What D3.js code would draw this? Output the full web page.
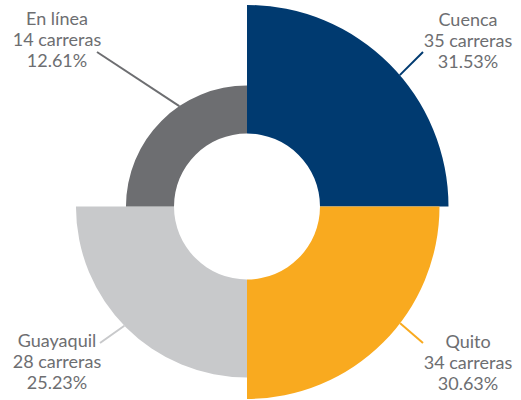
<!DOCTYPE html>
<html>
<head>
<meta charset="utf-8">
<script src="https://cdn.jsdelivr.net/npm/d3@7"></script>
<style>
  html, body { margin: 0; padding: 0; background: #fff; }
  svg { display: block; }
  text { font-family: Lato, "Noto Sans", sans-serif; }
</style>
</head>
<body>
<svg id="chart" width="521" height="400"></svg>
<script>
// ---- data ----
const categories = ["Cuenca", "Quito", "Guayaquil", "En línea"];
const carreras = [35, 34, 28, 14];
const percents = ["31.53%", "30.63%", "25.23%", "12.61%"];
const colors = ["#003a70", "#f9aa1f", "#c8c9cb", "#6d6e71"];

// ---- layout ----
const cx = 247, cy = 206.5;
const innerR = 73;

const svg = d3.select("#chart");
const g = svg.append("g").attr("transform", `translate(${cx},${cy})`);

const rScale = d3.scaleLinear().domain([0, 34, 35]).range([71, 192.5, 201.5]);

const data = categories.map((c, i) => ({ name: c, value: carreras[i], pct: percents[i], color: colors[i] }));
const pie = d3.pie().value(() => 1).sort(null);
const arcs = pie(data);

const arcGen = d3.arc()
  .innerRadius(innerR)
  .outerRadius(d => rScale(d.data.value));

g.selectAll("path.slice")
  .data(arcs)
  .enter().append("path")
  .attr("class", "slice")
  .attr("d", arcGen)
  .attr("fill", d => d.data.color);

// label placement (layout constants, per slice order)
const labelLayout = [
  { tx: 468, ty: 26, anchorDeg: 49.3, lx: 423, ly: 52 },
  { tx: 468, ty: 348, anchorDeg: 127.3, lx: 423, ly: 343 },
  { tx: 57, ty: 347, anchorDeg: 225.8, lx: 100, ly: 343 },
  { tx: 57, ty: 25, anchorDeg: 326, lx: 97, ly: 52 }
];

arcs.forEach((d, i) => {
  const L = labelLayout[i];
  const r = rScale(d.data.value);
  const a = L.anchorDeg * Math.PI / 180;
  const px = cx + r * Math.sin(a);
  const py = cy - r * Math.cos(a);
  svg.append("line")
    .attr("x1", L.lx).attr("y1", L.ly)
    .attr("x2", px).attr("y2", py)
    .attr("stroke", d.data.color)
    .attr("stroke-width", 2);
  const t = svg.append("text")
    .attr("x", L.tx).attr("y", L.ty)
    .attr("text-anchor", "middle")
    .attr("fill", "#6d6e71")
    .attr("font-size", 18);
  const lines = [d.data.name, `${d.data.value} carreras`, d.data.pct];
  lines.forEach((s, j) => {
    t.append("tspan").attr("x", L.tx).attr("y", L.ty + j * 21).text(s);
  });
});
</script>
</body>
</html>
